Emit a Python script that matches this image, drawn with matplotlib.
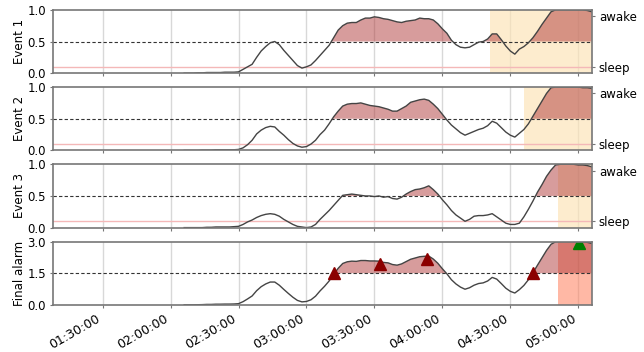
import matplotlib
matplotlib.use("Agg")
import matplotlib.pyplot as plt
import matplotlib.dates as mdates
import pandas as pd
import numpy as np

# Sampling grid of the detector outputs (every 2 minutes)
times = pd.date_range("2021-03-14 02:06", "2021-03-14 05:06", freq="2min")

event1 = [0.0, 0.0, 0.0, 0.005, 0.005, 0.01, 0.01, 0.01, 0.01, 0.015, 0.015, 0.015, 0.02,
          0.06, 0.1, 0.14, 0.25, 0.35, 0.42, 0.48, 0.5, 0.45, 0.36,
          0.28, 0.2, 0.12, 0.08, 0.1, 0.13, 0.2, 0.28, 0.36, 0.44,
          0.56, 0.68, 0.75, 0.79, 0.8, 0.8, 0.84, 0.87, 0.87, 0.89,
          0.88, 0.86, 0.85, 0.83, 0.81, 0.8, 0.82, 0.83, 0.84, 0.87,
          0.86, 0.86, 0.84, 0.78, 0.7, 0.63, 0.52, 0.45, 0.41, 0.4,
          0.41, 0.45, 0.49, 0.5, 0.54, 0.62, 0.62, 0.53, 0.43, 0.35,
          0.3, 0.38, 0.42, 0.48, 0.56, 0.66, 0.77, 0.87, 0.97, 1.0,
          1.0, 1.0, 1.0, 1.0, 1.0, 1.0, 0.99, 0.97]

event2 = [0.0, 0.0, 0.0, 0.0, 0.005, 0.005, 0.005, 0.01, 0.01, 0.01, 0.01, 0.01, 0.015,
          0.04, 0.09, 0.16, 0.26, 0.32, 0.36, 0.38, 0.37, 0.3, 0.24,
          0.17, 0.11, 0.07, 0.05, 0.06, 0.1, 0.16, 0.25, 0.32, 0.42,
          0.53, 0.62, 0.7, 0.73, 0.74, 0.74, 0.75, 0.73, 0.71, 0.7,
          0.69, 0.67, 0.65, 0.62, 0.62, 0.66, 0.7, 0.76, 0.78, 0.8,
          0.81, 0.79, 0.73, 0.66, 0.57, 0.48, 0.4, 0.34, 0.28, 0.24,
          0.27, 0.3, 0.33, 0.35, 0.39, 0.46, 0.43, 0.36, 0.29, 0.24,
          0.21, 0.27, 0.33, 0.42, 0.54, 0.66, 0.78, 0.9, 0.99, 1.0,
          1.0, 1.0, 1.0, 1.0, 1.0, 0.99, 0.99, 0.98]

event3 = [0.0, 0.0, 0.0, 0.0, 0.0, 0.005, 0.005, 0.01, 0.01, 0.01, 0.01, 0.015, 0.02,
          0.05, 0.09, 0.12, 0.16, 0.19, 0.21, 0.22, 0.21, 0.18, 0.13,
          0.09, 0.05, 0.02, 0.01, 0.0, 0.01, 0.05, 0.13, 0.2, 0.27,
          0.35, 0.43, 0.51, 0.52, 0.53, 0.52, 0.51, 0.5, 0.5, 0.49,
          0.5, 0.48, 0.49, 0.46, 0.45, 0.48, 0.53, 0.57, 0.6, 0.61,
          0.63, 0.66, 0.6, 0.53, 0.44, 0.36, 0.27, 0.2, 0.15, 0.1,
          0.13, 0.18, 0.19, 0.19, 0.2, 0.22, 0.17, 0.12, 0.07, 0.05,
          0.05, 0.07, 0.17, 0.29, 0.42, 0.56, 0.68, 0.81, 0.91, 0.99,
          1.0, 1.0, 1.0, 1.0, 0.99, 0.99, 0.98, 0.96]

event_names = ["Event 1", "Event 2", "Event 3"]
event_onsets = ["2021-03-14 04:21", "2021-03-14 04:36", "2021-03-14 04:51"]
alarm_onset = "2021-03-14 04:51"

# Alarm markers on the combined signal
alarm_times = ["2021-03-14 03:12:20", "2021-03-14 03:32:40", "2021-03-14 03:53:20",
               "2021-03-14 04:40:00"]
alarm_values = [1.5, 1.95, 2.15, 1.5]
wake_time = ["2021-03-14 05:00:20"]
wake_value = [2.95]

xlim = ("2021-03-14 01:08", "2021-03-14 05:06")
tick_times = pd.date_range("2021-03-14 01:30", "2021-03-14 05:00", freq="30min")

FS = 8.5
fill_color = "#b03a3a"
line_color = "#444444"
spine_color = "#777777"

fig, axes = plt.subplots(4, 1, figsize=(6.44, 3.52), dpi=100, sharex=True)
fig.subplots_adjust(left=0.082, right=0.919, top=0.972, bottom=0.134, hspace=0.22)

series = [np.array(event1), np.array(event2), np.array(event3)]
final = series[0] + series[1] + series[2]

def style(ax):
    for s in ax.spines.values():
        s.set_color(spine_color)
        s.set_linewidth(1.2)
    ax.grid(axis="x", color="#d8d8d8", linewidth=1)
    ax.set_axisbelow(True)
    ax.tick_params(labelsize=FS, length=2.5, pad=2.5, color=spine_color)

for ax, name, vals, onset in zip(axes[:3], event_names, series, event_onsets):
    style(ax)
    ax.axvspan(pd.Timestamp(onset), pd.Timestamp(xlim[1]), color="#fde3b5", alpha=0.65, lw=0)
    ax.axhline(0.1, color="#f4b8b8", lw=1)
    ax.axhline(0.5, color="#333333", lw=0.8, ls=(0, (3, 2)))
    ax.fill_between(times, 0.5, vals, where=vals > 0.5, interpolate=True,
                    color=fill_color, alpha=0.5, lw=0)
    ax.plot(times, vals, color=line_color, lw=1)
    ax.set_ylim(0, 1)
    ax.set_yticks([0, 0.5, 1.0])
    ax.set_yticklabels(["0.0", "0.5", "1.0"])
    ax.set_ylabel(name, fontsize=FS, labelpad=1)
    rax = ax.twinx()
    rax.set_ylim(0, 1)
    rax.set_yticks([0.1, 0.9])
    rax.set_yticklabels(["sleep", "awake"])
    rax.tick_params(labelsize=FS, length=2.5, pad=2.5, color=spine_color)
    for s in rax.spines.values():
        s.set_visible(False)

ax = axes[3]
style(ax)
ax.axvspan(pd.Timestamp(alarm_onset), pd.Timestamp(xlim[1]), color="#ff7f5c", alpha=0.55, lw=0)
ax.axhline(1.5, color="#333333", lw=0.8, ls=(0, (3, 2)))
ax.fill_between(times, 1.5, final, where=final > 1.5, interpolate=True,
                color=fill_color, alpha=0.5, lw=0)
ax.plot(times, final, color=line_color, lw=1)
ax.plot(pd.to_datetime(alarm_times), alarm_values, "^", color="#8b0000", ms=8)
ax.plot(pd.to_datetime(wake_time), wake_value, "^", color="#008000", ms=8)
ax.set_ylim(0, 3)
ax.set_yticks([0, 1.5, 3.0])
ax.set_yticklabels(["0.0", "1.5", "3.0"])
ax.set_ylabel("Final alarm", fontsize=FS, labelpad=1)

ax.set_xlim(pd.Timestamp(xlim[0]), pd.Timestamp(xlim[1]))
ax.set_xticks(tick_times)
ax.xaxis.set_major_formatter(mdates.DateFormatter("%H:%M:%S"))
for lbl in ax.get_xticklabels():
    lbl.set_rotation(30)
    lbl.set_ha("right")
    lbl.set_fontsize(9)

fig.align_ylabels(axes)
fig.savefig("out.png", dpi=100)
